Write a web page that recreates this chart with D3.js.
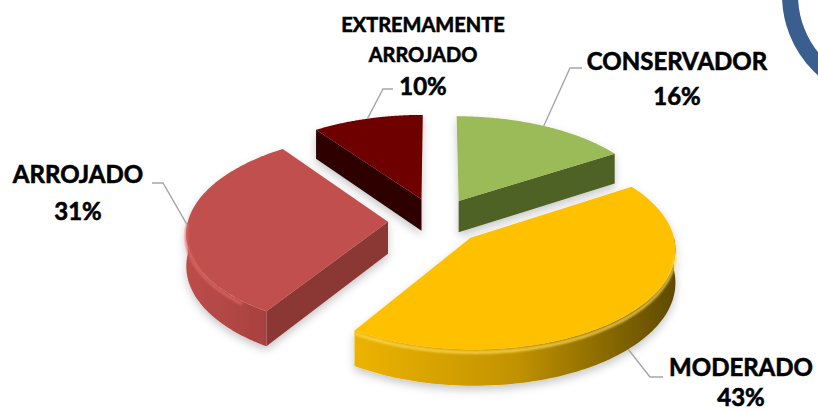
<!DOCTYPE html>
<html>
<head>
<meta charset="utf-8">
<script src="https://cdn.jsdelivr.net/npm/d3@7"></script>
<style>
  body { margin: 0; background: #fff; }
  svg { display: block; }
  text { font-family: Lato, "Open Sans", sans-serif; font-weight: 700; fill: #000; stroke: #000; stroke-width: 0.6px; }
</style>
</head>
<body>
<svg id="chart" width="818" height="412"></svg>
<script>
// data
const categories = ["CONSERVADOR", "MODERADO", "ARROJADO", "EXTREMAMENTE ARROJADO"];
const values = [16, 43, 31, 10];
const percentLabels = ["16%", "43%", "31%", "10%"];
const nameLines = [["CONSERVADOR"], ["MODERADO"], ["ARROJADO"], ["EXTREMAMENTE", "ARROJADO"]];

// styles
const topColors = ["#9BBB59", "#FFC000", "#C0504D", "#6E0000"];
const wallColors = ["#4F6228", "#8A6A00", "#8B3735", "#2E0000"];
const sideStops = [
  ["#5E7530", "#4F6228"],
  ["#EDB300", "#C29300", "#5E4A00"],
  ["#BC4D4A", "#A8413F"],
  ["#3A0000", "#2A0000"]
];
const rimColors = ["#B5D07A", "#FFDA55", "#DE6864", "#8A1010"];

// label layout: centre x, first baseline, line step, name size, leader
const labelLayout = [
  { x: 677, y: 70, step: 35, size: 24, w: 0, elbow: [570, 68], end: [582, 68] },
  { x: 741, y: 376, step: 30, size: 24, w: 1, elbow: [650, 377], end: [663, 377] },
  { x: 78, y: 183, step: 37, size: 24, w: 0, elbow: [163, 183], end: [152, 183] },
  { x: 423, y: 32, step: 30, size: 20, w: 0, elbow: [383, 89], end: [393, 89] }
];

// 3d pie projection
const cx = 436, cy = 221, rx = 200, ry = 97, persp = 0.1, thick = 32, explode = 0.24;

function proj(u, v, w) {
  const s = 1 / (1 - persp * v);
  return [cx + rx * u * s, cy + ry * v * s + thick * w * s];
}

const svg = d3.select("#chart");
const defs = svg.append("defs");

const shadow = defs.append("filter").attr("id", "shadow")
  .attr("x", "-20%").attr("y", "-20%").attr("width", "140%").attr("height", "140%");
shadow.append("feDropShadow").attr("dx", 0).attr("dy", 4)
  .attr("stdDeviation", 4).attr("flood-color", "#000").attr("flood-opacity", 0.22);

const soft = defs.append("filter").attr("id", "soft");
soft.append("feGaussianBlur").attr("stdDeviation", 1.2);

// decorative ring in the top right corner
svg.append("circle")
  .attr("cx", 890).attr("cy", -5).attr("r", 100)
  .attr("fill", "none").attr("stroke", "#3A5F8F").attr("stroke-width", 16);

const arcs = d3.pie().sort(null).value(d => d)(values);

function offsetOf(d) {
  const m = (d.startAngle + d.endAngle) / 2;
  return [explode * Math.sin(m), -explode * Math.cos(m)];
}

function pt(d, r, a, w) {
  const o = offsetOf(d);
  return proj(o[0] + r * Math.sin(a), o[1] - r * Math.cos(a), w);
}

function arcPts(d, a0, a1, w, n) {
  const pts = [];
  for (let k = 0; k <= n; k++) {
    const a = a0 + (a1 - a0) * k / n;
    pts.push(pt(d, 1, a, w));
  }
  return pts;
}

const line = d3.line();
const gPie = svg.append("g").attr("filter", "url(#shadow)");

// back slices first
const order = arcs.map((d, i) => ({ d, i, depth: offsetOf(d)[1] }))
  .sort((a, b) => a.depth - b.depth);

order.forEach(({ d, i }) => {
  const g = gPie.append("g").attr("class", "slice");
  const a0 = d.startAngle, a1 = d.endAngle;

  // radial walls that face the viewer
  if (Math.sin(a0) < -1e-6) {
    g.append("path")
      .attr("d", line([pt(d, 0, a0, 0), pt(d, 1, a0, 0), pt(d, 1, a0, 1), pt(d, 0, a0, 1)]) + "Z")
      .attr("fill", wallColors[i]);
  }
  if (Math.sin(a1) > 1e-6) {
    g.append("path")
      .attr("d", line([pt(d, 0, a1, 0), pt(d, 1, a1, 0), pt(d, 1, a1, 1), pt(d, 0, a1, 1)]) + "Z")
      .attr("fill", wallColors[i]);
  }

  // outer curved side
  const lo = Math.max(a0, Math.PI / 2), hi = Math.min(a1, 3 * Math.PI / 2);
  if (hi > lo) {
    const topArc = arcPts(d, lo, hi, 0, 80);
    const botArc = arcPts(d, lo, hi, 1, 80).reverse();
    const xs = topArc.map(p => p[0]);
    const gid = "side" + i;
    const grad = defs.append("linearGradient").attr("id", gid)
      .attr("gradientUnits", "userSpaceOnUse")
      .attr("x1", d3.min(xs)).attr("x2", d3.max(xs)).attr("y1", 0).attr("y2", 0);
    const stops = sideStops[i];
    stops.forEach((c, k) => {
      grad.append("stop").attr("offset", k / (stops.length - 1)).attr("stop-color", c);
    });
    g.append("path")
      .attr("d", line(topArc.concat(botArc)) + "Z")
      .attr("fill", "url(#" + gid + ")");
  }

  // top face
  g.append("path")
    .attr("d", line([pt(d, 0, 0, 0)].concat(arcPts(d, a0, a1, 0, 100))) + "Z")
    .attr("fill", topColors[i]);

  // bevel highlight along the front rim
  if (hi > lo) {
    g.append("path")
      .attr("d", line(arcPts(d, lo + 0.15, hi, 0.08, 80)))
      .attr("fill", "none")
      .attr("stroke", rimColors[i])
      .attr("stroke-width", 3)
      .attr("opacity", 0.8)
      .attr("filter", "url(#soft)");
  }
});

// labels with leader lines
const gLab = svg.append("g");
arcs.forEach((d, i) => {
  const L = labelLayout[i];
  const m = (d.startAngle + d.endAngle) / 2;
  const start = pt(d, 1, m, L.w);

  gLab.append("path")
    .attr("d", line([start, L.elbow, L.end]))
    .attr("fill", "none")
    .attr("stroke", "#A6A6A6")
    .attr("stroke-width", 1.4);

  nameLines[i].forEach((t, k) => {
    gLab.append("text")
      .attr("x", L.x).attr("y", L.y + k * L.step)
      .attr("text-anchor", "middle")
      .attr("font-size", L.size)
      .text(t);
  });
  gLab.append("text")
    .attr("x", L.x).attr("y", L.y + nameLines[i].length * L.step + (i === 3 ? 3 : 0))
    .attr("text-anchor", "middle")
    .attr("font-size", 24)
    .text(percentLabels[i]);
});
</script>
</body>
</html>
